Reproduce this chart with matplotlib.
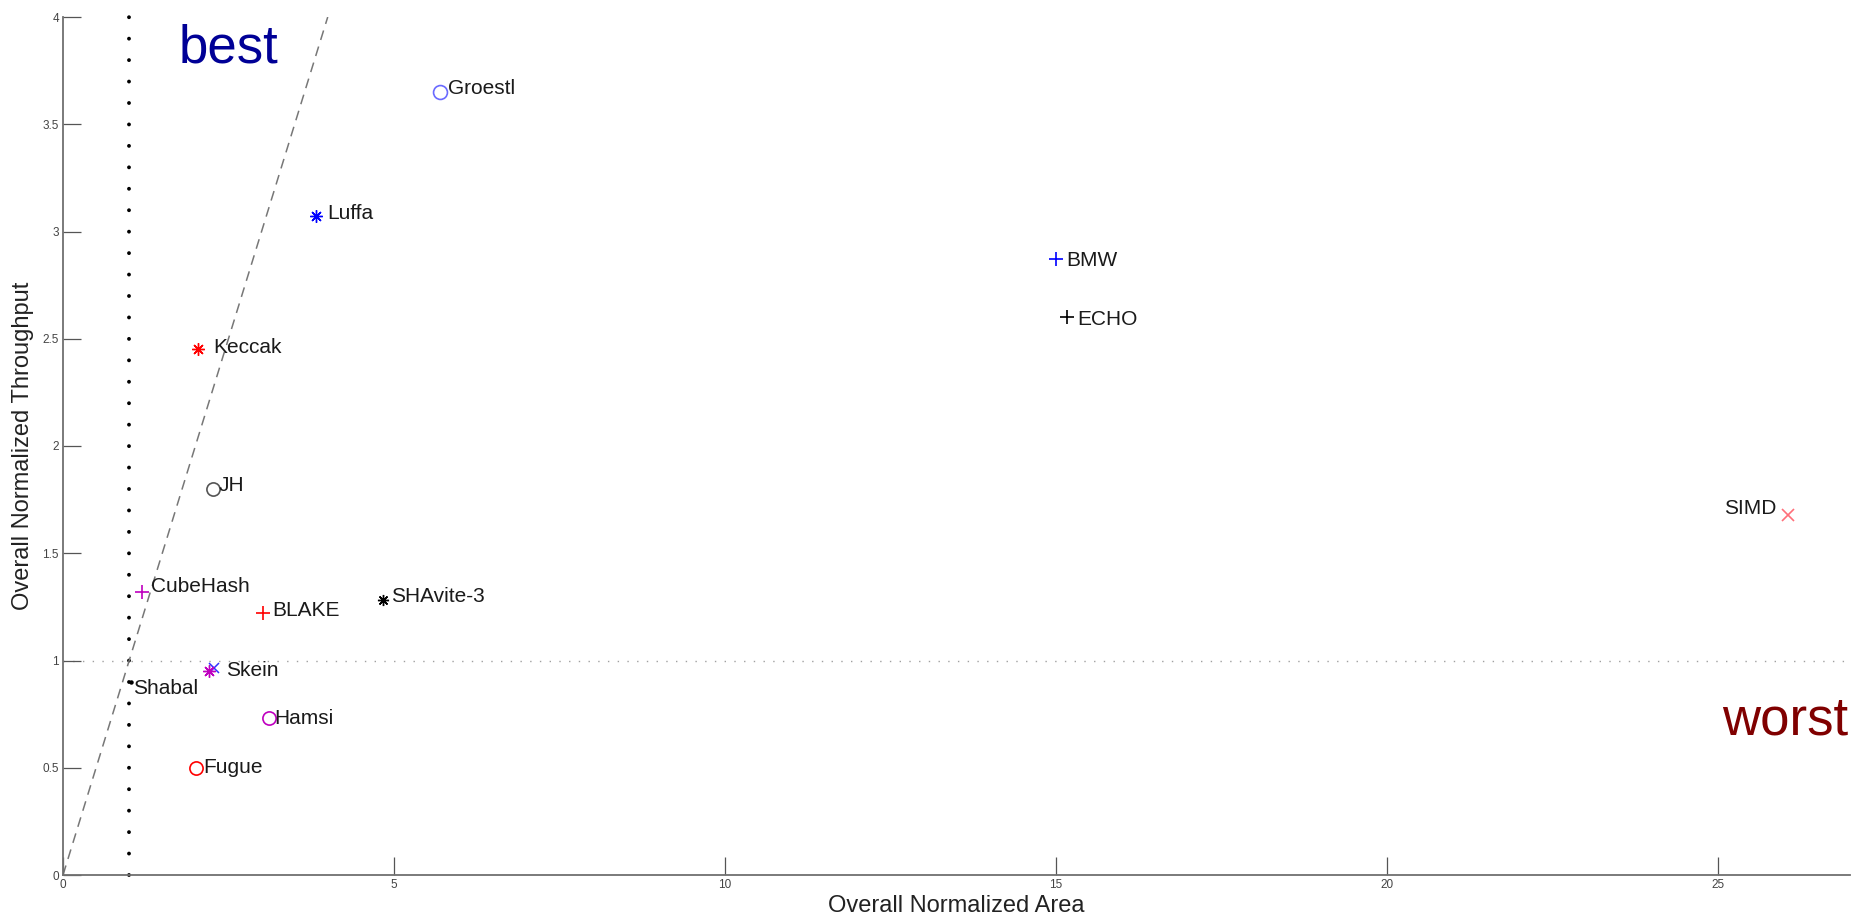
import matplotlib
matplotlib.use('Agg')
import matplotlib.pyplot as plt
from matplotlib.ticker import FormatStrFormatter

plt.rcParams['font.family'] = ['Liberation Sans', 'DejaVu Sans']

# Hash candidates: normalized area vs normalized throughput
names = ['Groestl', 'Luffa', 'Keccak', 'BMW', 'ECHO', 'JH', 'SIMD', 'CubeHash',
         'BLAKE', 'SHAvite-3', 'Skein', 'Shabal', 'Hamsi', 'Fugue']
area = [5.69, 3.82, 2.04, 15.0, 15.17, 2.26, 26.06, 1.20,
        3.02, 4.83, 2.21, 1.03, 3.11, 2.01]
throughput = [3.65, 3.07, 2.45, 2.87, 2.60, 1.80, 1.68, 1.32,
              1.22, 1.28, 0.95, 0.90, 0.73, 0.50]

# second Skein variant (no label of its own)
skein2_area = [2.28]
skein2_throughput = [0.965]

star = (8, 2, 0)
markers = ['o', star, star, '+', '+', 'o', 'x', '+', '+', star, star, '.', 'o', 'o']
colors = ['#6a6aff', 'b', 'r', 'b', 'k', '#555555', '#ff6f7a', 'm',
          'r', 'k', 'm', 'k', 'm', 'r']
sizes = [10, 9, 9, 10, 10, 9.5, 8, 10, 10, 8, 9, 4, 9.5, 9.5]

# label offsets in pixels (dx, dy of the cap centre, positive = down)
label_offsets = [(8, -5.5), (11, -4.5), (15, -4), (10, -1), (10, 0), (6, -5),
                 (-11, -8), (9, -7), (9, -5), (8, -6), (17, -3), (2, 5),
                 (5, -2), (7, -2)]

fig = plt.figure(figsize=(18.54, 9.16), dpi=100)
ax = fig.add_axes([63 / 1854, 41 / 916, (1850 - 63) / 1854, (875 - 17) / 916])

# reference lines
ax.plot([1, 1], [0, 4], color='k', lw=2.8, dash_capstyle='round',
        linestyle=(0, (0.001, 15.44 / 2.8 - 0.001)), clip_on=False, zorder=1)
ax.axhline(1, color='#a0a0a0', lw=1, linestyle=(0, (1, 6)), zorder=1)
ax.plot([0, 4], [0, 4], color='#777777', lw=1.1, linestyle=(0, (6.5, 4.5)), zorder=1)

ax.plot(skein2_area, skein2_throughput, linestyle='none', marker='x',
        markersize=6.5, color='#3030ff', markeredgewidth=1.1, zorder=2)

for i, name in enumerate(names):
    filled = markers[i] == '.'
    ax.plot(area[i], throughput[i], linestyle='none', marker=markers[i],
            markersize=sizes[i], color=colors[i],
            markerfacecolor=colors[i] if filled else 'none',
            markeredgewidth=1.0 if markers[i] == star else 1.2, zorder=3)
    dx, dy = label_offsets[i]
    ax.annotate(name, (area[i], throughput[i]),
                xytext=(dx / 1.389, -(dy + 7.5) / 1.389), textcoords='offset points',
                ha='right' if dx < 0 else 'left', va='baseline',
                fontsize=15, color='#1a1a1a', zorder=4)

ax.text(1.74, 3.79, 'best', color='#000096', fontsize=38,
        ha='left', va='baseline')
ax.text(25.06, 0.653, 'worst', color='#800000', fontsize=38,
        ha='left', va='baseline', clip_on=False)

ax.set_xlim(0, 27)
ax.set_ylim(0, 4)
ax.set_xticks([0, 5, 10, 15, 20, 25])
ax.set_yticks([0, 0.5, 1, 1.5, 2, 2.5, 3, 3.5, 4])
ax.yaxis.set_major_formatter(FormatStrFormatter('%g'))
ax.tick_params(direction='in', length=13, width=0.9, color='#555555',
               labelsize=8.5, labelcolor='#444444', pad=3)

for side in ['top', 'right']:
    ax.spines[side].set_visible(False)
for side in ['left', 'bottom']:
    ax.spines[side].set_color('#707070')
    ax.spines[side].set_linewidth(1.3)

ax.set_xlabel('Overall Normalized Area', fontsize=17, color='#222222')
ax.set_ylabel('Overall Normalized Throughput', fontsize=17, color='#222222')
ax.xaxis.set_label_coords(0.5, (875 - 895) / 858)
ax.yaxis.set_label_coords((34 - 63) / 1787, 0.5)

fig.savefig('out.png', dpi=100)
